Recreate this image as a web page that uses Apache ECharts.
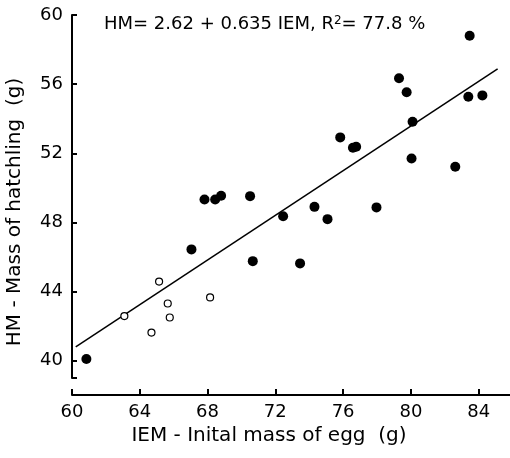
<!DOCTYPE html>
<html>
<head>
<meta charset="utf-8">
<script src="https://cdn.jsdelivr.net/npm/echarts@6/dist/echarts.min.js"></script>
<style>html,body{margin:0;padding:0;background:#fff}#c{width:510px;height:458px}</style>
</head>
<body>
<div id="c"></div>
<script>
// Filled dots (x = IEM, y = HM)
const filledX = [60.85, 67.05, 70.67, 67.82, 68.45, 68.80, 70.51, 72.46, 73.46, 74.31, 75.08, 77.97, 75.83, 76.58, 76.77, 79.30, 79.75, 80.10, 80.04, 82.62, 83.47, 83.39, 84.22];
const filledY = [40.10, 46.44, 45.76, 49.33, 49.33, 49.54, 49.52, 48.36, 45.63, 48.90, 48.19, 48.87, 52.92, 52.32, 52.38, 56.34, 55.53, 53.82, 51.70, 51.22, 58.80, 55.27, 55.35];
// Open dots
const openX = [63.09, 65.14, 65.65, 65.77, 64.69, 68.15];
const openY = [42.58, 44.58, 43.31, 42.50, 41.63, 43.66];
// Regression line end points
const lineX = [60.22, 85.12];
const lineY = [40.80, 56.88];
// Tick labels
const xTicks = [60, 64, 68, 72, 76, 80, 84];
const yTicks = [40, 44, 48, 52, 56, 60];
const yTickMarks = [39, 40, 44, 48, 52, 56, 60];
const xName = 'IEM - Inital mass of egg  (g)';
const yName = 'HM - Mass of hatchling  (g)';

const zip = (a, b) => a.map((v, i) => [v, b[i]]);
const FONT = 'DejaVu Sans';
const chart = echarts.init(document.getElementById('c'));
chart.setOption({
  animation: false,
  backgroundColor: '#fff',
  grid: { left: 72, top: 15, right: 0, bottom: 80 },
  xAxis: {
    type: 'value', min: 60, max: 85.85, offset: 17,
    axisLine: { show: true, lineStyle: { color: '#000', width: 2 } },
    axisTick: { show: true, inside: true, length: 6, customValues: xTicks, lineStyle: { color: '#000', width: 2 } },
    axisLabel: { customValues: xTicks, color: '#000', fontSize: 18, fontFamily: FONT, margin: 8 },
    splitLine: { show: false }
  },
  yAxis: {
    type: 'value', min: 39, max: 60,
    axisLine: { show: true, lineStyle: { color: '#000', width: 2 } },
    axisTick: { show: true, inside: true, length: 5, customValues: yTickMarks, lineStyle: { color: '#000', width: 2 } },
    axisLabel: { customValues: yTicks, color: '#000', fontSize: 18, fontFamily: FONT, margin: 9 },
    splitLine: { show: false }
  },
  graphic: [
    { type: 'text', left: 104, top: 15, style: { rich: { n: { fontSize: 18, fontFamily: FONT, fill: '#000' }, s: { fontSize: 12, fontFamily: FONT, fill: '#000', verticalAlign: 'top', padding: [0,0,6,0] } }, text: '{n|HM= 2.62 + 0.635 IEM, R}{s|2}{n|= 77.8 %}' } },
    { type: 'text', x: 269, y: 436, style: { text: xName, fontSize: 20, fontFamily: FONT, fill: '#000', align: 'center', verticalAlign: 'middle' } },
    { type: 'text', x: 15, y: 212, rotation: Math.PI / 2, style: { text: yName, fontSize: 20, fontFamily: FONT, fill: '#000', align: 'center', verticalAlign: 'middle' } }
  ],
  series: [
    { type: 'line', data: zip(lineX, lineY), symbol: 'none', lineStyle: { color: '#000', width: 1.5 }, z: 1 },
    { type: 'scatter', data: zip(filledX, filledY), symbol: 'circle', symbolSize: 10, itemStyle: { color: '#000', opacity: 1 }, z: 3 },
    { type: 'scatter', data: zip(openX, openY), symbol: 'circle', symbolSize: 7, itemStyle: { color: '#fff', borderColor: '#000', borderWidth: 1.2, opacity: 1 }, z: 3 }
  ]
});
</script>
</body>
</html>
